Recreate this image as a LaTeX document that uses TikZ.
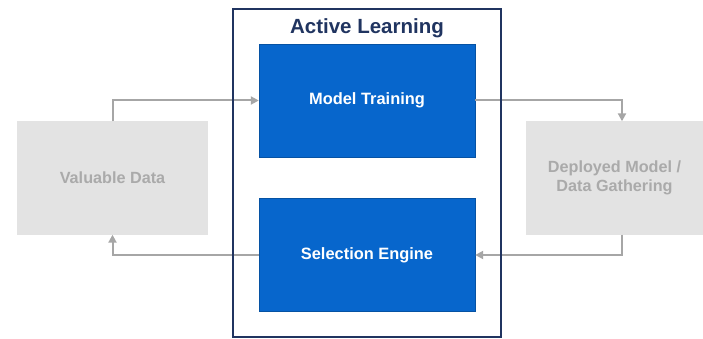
\documentclass[tikz,border=0pt]{standalone}
\usepackage{fontspec}
\setmainfont{Liberation Sans}
\usetikzlibrary{arrows.meta}
\definecolor{navy}{RGB}{32,52,96}
\definecolor{mblue}{RGB}{7,102,204}
\definecolor{gfill}{RGB}{227,227,227}
\definecolor{gtext}{RGB}{170,170,170}
\definecolor{garrow}{RGB}{166,166,166}
\tikzset{
  bluebox/.style={rectangle, fill=mblue, draw=mblue!80!black, line width=0.4pt, minimum width=216pt, minimum height=113pt, text=white, font=\bfseries\fontsize{16.4}{19}\selectfont, inner sep=0pt},
  graybox/.style={rectangle, fill=gfill, minimum height=113pt, text=gtext, font=\bfseries\fontsize{16.2}{19}\selectfont, align=center, inner sep=0pt},
  conn/.style={draw=garrow, line width=2pt, -{Triangle[length=8pt,width=8pt]}},
  frame/.style={draw=navy, line width=1.6pt},
}
\begin{document}
\begin{tikzpicture}[x=1pt,y=-1pt]
\useasboundingbox (0,0) rectangle (703,339);
\fill[white] (0,0) rectangle (703,339);
\node[bluebox] (mt) at (367,100.5) {Model Training};
\node[bluebox] (se) at (367,255) {Selection Engine};
\node[graybox, minimum width=191pt] (vd) at (112.5,178) {Valuable Data};
\node[graybox, minimum width=177pt] (dm) at (614.5,178) {Deployed Model /\\Data Gathering};
\coordinate (dmn) at ([xshift=7.5pt]dm.north);
\coordinate (dms) at ([xshift=7.5pt]dm.south);
\draw[conn] (vd.north) |- (mt.west);
\draw[conn] (mt.east) -| (dmn);
\draw[conn] (dms) |- (se.east);
\draw[conn] (se.west) -| (vd.south);
\node[draw=none, minimum width=268pt, minimum height=328pt] (fr) at (367,173) {};
\draw[frame] (fr.north west) rectangle (fr.south east);
\node[text=navy, font=\bfseries\fontsize{20.5}{24}\selectfont] (title) at (367,28.5) {Active Learning};
\end{tikzpicture}
\end{document}
